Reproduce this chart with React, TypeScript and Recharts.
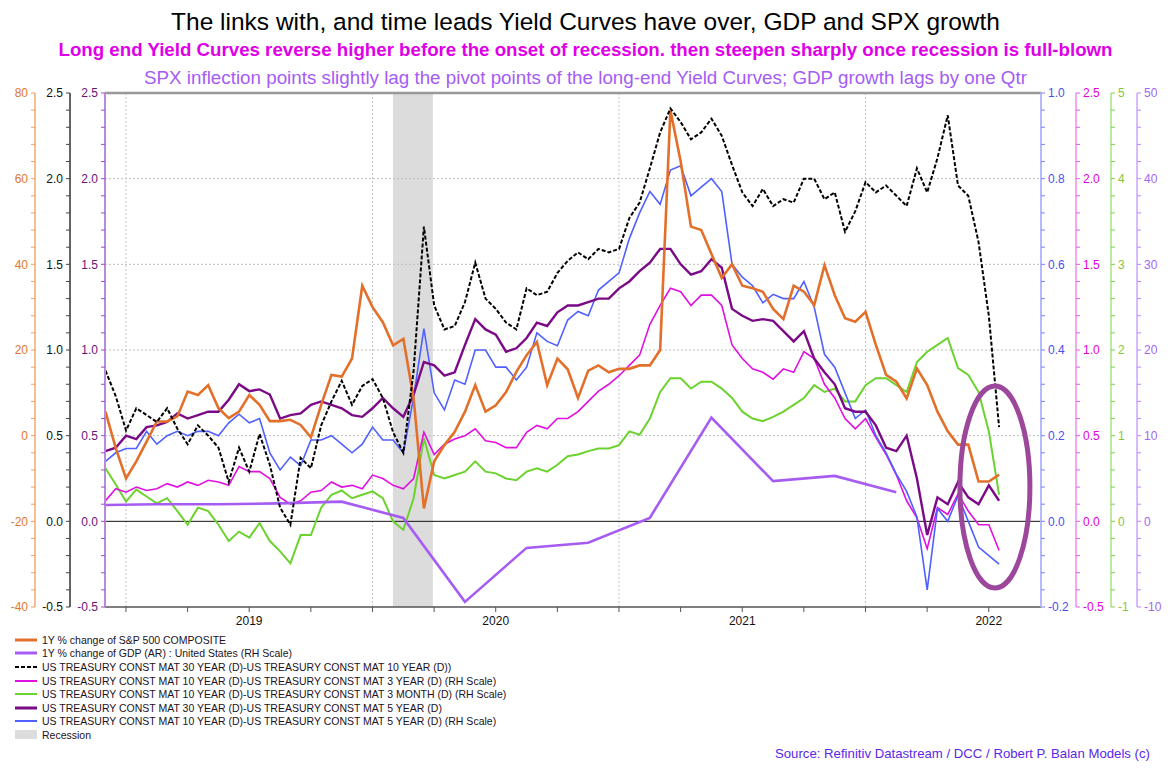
import React from 'react';
import { ComposedChart, Line, XAxis, YAxis, ReferenceLine, ReferenceArea, ReferenceDot } from 'recharts';

// semi-monthly sample dates (fractional years), Dec 2018 -> Jul 2022
const dates = Array.from({ length: 88 }, (_, i) => 2018.917 + i / 24);

const spx = [
  5.6, -2.9, -10, -6, -1.4, 3.3, 3.3, 4.5, 10.3, 9.5,
  11.8, 6.4, 4.1, 5.6, 9.5, 7.2, 3.4, 3.4, 3.7, 2.5,
  -0.4, 7.2, 14.2, 13.8, 18, 35, 30, 26.5, 21.1, 22.6,
  8.7, -17, -6, -2.2, 0.9, 5.6, 11.8, 5.6, 7.1, 10.2,
  14.9, 18.8, 21.9, 11.8, 18, 15.5, 8.8, 15.2, 16.4, 14.8,
  15.6, 15.6, 16.4, 16.4, 20, 76, 64, 48.8, 48, 42.4,
  36.8, 40, 35, 34.4, 33.6, 29.6, 27.2, 35, 33.6, 30.5,
  39.8, 32.8, 27.4, 26.6, 28.9, 21.2, 14.2, 12.6, 8.7, 15.7,
  11.8, 5.6, 1, -2.1, -2.1, -10.7, -10.7, -9.1,
];

const ust30y10y = [
  0.88, 0.73, 0.53, 0.66, 0.62, 0.58, 0.66, 0.54, 0.45, 0.56,
  0.5, 0.43, 0.23, 0.43, 0.29, 0.51, 0.33, 0.08, -0.02, 0.37,
  0.31, 0.56, 0.7, 0.82, 0.68, 0.79, 0.83, 0.72, 0.52, 0.4,
  0.88, 1.72, 1.26, 1.12, 1.14, 1.28, 1.51, 1.3, 1.24, 1.16,
  1.12, 1.36, 1.32, 1.34, 1.45, 1.52, 1.57, 1.53, 1.59, 1.57,
  1.59, 1.77, 1.86, 2.06, 2.27, 2.41, 2.33, 2.23, 2.27, 2.35,
  2.25, 2.08, 1.92, 1.84, 1.94, 1.84, 1.88, 1.86, 2.0, 2.0,
  1.88, 1.92, 1.69, 1.81, 1.98, 1.92, 1.96, 1.9, 1.84, 2.06,
  1.92, 2.12, 2.37, 1.96, 1.9, 1.63, 1.2, 0.55,
];

const ust10y3y = [
  0.12, 0.19, 0.17, 0.2, 0.18, 0.19, 0.22, 0.2, 0.23, 0.21,
  0.24, 0.23, 0.21, 0.32, 0.29, 0.29, 0.25, 0.14, 0.1, 0.12,
  0.17, 0.18, 0.23, 0.2, 0.21, 0.19, 0.27, 0.25, 0.21, 0.19,
  0.25, 0.52, 0.39, 0.45, 0.48, 0.5, 0.54, 0.47, 0.46, 0.43,
  0.43, 0.52, 0.56, 0.54, 0.6, 0.6, 0.64, 0.7, 0.76, 0.8,
  0.85, 0.91, 0.97, 1.15, 1.26, 1.36, 1.34, 1.26, 1.32, 1.32,
  1.26, 1.03, 0.95, 0.89, 0.87, 0.83, 0.89, 0.87, 0.99, 0.95,
  0.8, 0.72, 0.6, 0.54, 0.6, 0.49, 0.39, 0.27, 0.12, 0.02,
  -0.16, 0.08, 0.04, 0.16, 0.06, -0.02, -0.02, -0.17,
];

const ust10y3m = [
  0.62, 0.43, 0.23, 0.37, 0.29, 0.21, 0.27, 0.12, -0.04, 0.16,
  0.12, -0.04, -0.23, -0.12, -0.19, -0.02, -0.23, -0.35, -0.49, -0.16,
  -0.16, 0.16, 0.31, 0.36, 0.27, 0.31, 0.35, 0.27, 0.0, -0.1,
  0.27, 0.97, 0.54, 0.5, 0.54, 0.58, 0.7, 0.58, 0.56, 0.5,
  0.48, 0.58, 0.62, 0.58, 0.66, 0.76, 0.78, 0.82, 0.85, 0.85,
  0.89, 1.05, 1.01, 1.2, 1.51, 1.67, 1.67, 1.55, 1.63, 1.63,
  1.55, 1.44, 1.28, 1.2, 1.17, 1.22, 1.28, 1.36, 1.44, 1.59,
  1.51, 1.55, 1.4, 1.4, 1.59, 1.67, 1.67, 1.59, 1.51, 1.86,
  1.98, 2.06, 2.14, 1.79, 1.71, 1.51, 1.05, 0.31,
];

const ust30y5y = [
  0.41, 0.43, 0.5, 0.48, 0.55, 0.56, 0.58, 0.63, 0.6, 0.62,
  0.64, 0.64, 0.71, 0.8, 0.76, 0.77, 0.74, 0.6, 0.62, 0.63,
  0.68, 0.7, 0.68, 0.66, 0.62, 0.61, 0.66, 0.72, 0.66, 0.61,
  0.74, 0.93, 0.91, 0.85, 0.87, 1.03, 1.18, 1.12, 1.09, 0.99,
  1.01, 1.07, 1.16, 1.14, 1.22, 1.26, 1.26, 1.28, 1.3, 1.3,
  1.36, 1.4, 1.46, 1.51, 1.59, 1.59, 1.5, 1.44, 1.46, 1.53,
  1.48, 1.24, 1.2, 1.17, 1.18, 1.17, 1.11, 1.05, 1.11, 0.95,
  0.87, 0.8, 0.66, 0.64, 0.64, 0.56, 0.43, 0.41, 0.5, 0.25,
  -0.08, 0.14, 0.1, 0.23, 0.14, 0.1, 0.21, 0.12,
];

const ust10y5y = [
  0.14, 0.16, 0.17, 0.17, 0.21, 0.18, 0.2, 0.21, 0.2, 0.21,
  0.21, 0.2, 0.23, 0.25, 0.23, 0.24, 0.16, 0.12, 0.15, 0.13,
  0.19, 0.19, 0.2, 0.18, 0.16, 0.18, 0.22, 0.19, 0.19, 0.16,
  0.29, 0.45, 0.3, 0.26, 0.33, 0.32, 0.4, 0.4, 0.36, 0.36,
  0.33, 0.36, 0.44, 0.42, 0.41, 0.47, 0.49, 0.48, 0.54, 0.56,
  0.58, 0.66, 0.72, 0.77, 0.74, 0.82, 0.83, 0.76, 0.78, 0.8,
  0.77, 0.6, 0.57, 0.55, 0.51, 0.53, 0.52, 0.52, 0.56, 0.5,
  0.39, 0.36, 0.3, 0.24, 0.26, 0.2, 0.16, 0.11, 0.07, 0.01,
  -0.16, 0.03, 0.0, 0.06, 0.0, -0.06, -0.08, -0.1,
];

// quarterly GDP y/y, plotted mid-quarter
const gdpDates = [2018.917, 2019.125, 2019.375, 2019.625, 2019.875, 2020.125, 2020.375, 2020.625, 2020.875, 2021.125, 2021.375, 2021.625, 2021.875, 2022.125];
const gdpValues = [1.9, 2.0, 2.0, 2.1, 2.3, 0.4, -9.4, -3.1, -2.5, 0.4, 12.1, 4.7, 5.3, 3.4];

const yearLines = [2019, 2020, 2021, 2022];
const quarterTicks = [2019, 2019.25, 2019.5, 2019.75, 2020, 2020.25, 2020.5, 2020.75, 2021, 2021.25, 2021.5, 2021.75, 2022, 2022.25, 2022.5];
const recession = [2020.083, 2020.245];

const spxMajor = [-40, -20, 0, 20, 40, 60, 80];
const curveMajor = [-0.5, 0, 0.5, 1, 1.5, 2, 2.5];
const blueMajor = [-0.2, 0, 0.2, 0.4, 0.6, 0.8, 1];
const greenMajor = [-1, 0, 1, 2, 3, 4, 5];
const gdpMajor = [-10, 0, 10, 20, 30, 40, 50];

const data = dates.map((d, i) => ({
  date: d,
  spx: spx[i],
  t30_10: ust30y10y[i],
  t10_3y: ust10y3y[i],
  t10_3m: ust10y3m[i],
  t30_5: ust30y5y[i],
  t10_5: ust10y5y[i],
}));
const gdpData = gdpDates.map((d, i) => ({ date: d, gdp: gdpValues[i] }));

const FONT = '"Liberation Sans", Arial, sans-serif';

function minorTicks(major: number[], per: number) {
  const out: number[] = [];
  for (let k = 0; k < major.length - 1; k++) {
    const step = (major[k + 1] - major[k]) / per;
    for (let j = 0; j < per; j++) out.push(Math.round((major[k] + j * step) * 1000) / 1000);
  }
  out.push(major[major.length - 1]);
  return out;
}

function makeTick(textColor: string, lineColor: string, side: 'left' | 'right', major: number[], digits: number) {
  return (props: any) => {
    const { x, y, payload } = props;
    const v = payload.value;
    const isMajor = major.some((m) => Math.abs(m - v) < 1e-6);
    const dir = side === 'left' ? -1 : 1;
    return (
      <g>
        <line x1={x} x2={x + dir * 4} y1={y} y2={y} stroke={lineColor} strokeWidth={1} />
        {isMajor && (
          <text x={x + dir * 7} y={y} dy="0.35em" textAnchor={side === 'left' ? 'end' : 'start'} fill={textColor} fontSize={12} fontFamily={FONT}>
            {v.toFixed(digits)}
          </text>
        )}
      </g>
    );
  };
}

const XTick = (props: any) => {
  const { x, y, payload } = props;
  const v = payload.value;
  const mid = Math.abs((v % 1) - 0.5) < 1e-6;
  return (
    <g>
      <line x1={x} x2={x} y1={y} y2={y + 5} stroke="#555" />
      {mid && (
        <text x={x} y={y + 14} dy="0.35em" textAnchor="middle" fontSize={12} fontFamily={FONT} fill="#111">
          {Math.floor(v)}
        </text>
      )}
    </g>
  );
};

const legendItems = [
  { label: '1Y % change of S&P 500 COMPOSITE', color: '#e2702a', dash: '', w: 3 },
  { label: '1Y % change of GDP (AR) : United States (RH Scale)', color: '#a65cf2', dash: '', w: 3 },
  { label: 'US TREASURY CONST MAT 30 YEAR (D)-US TREASURY CONST MAT 10 YEAR (D))', color: '#000', dash: '4 2', w: 2 },
  { label: 'US TREASURY CONST MAT 10 YEAR (D)-US TREASURY CONST MAT 3 YEAR (D) (RH Scale)', color: '#e010e0', dash: '', w: 2 },
  { label: 'US TREASURY CONST MAT 10 YEAR (D)-US TREASURY CONST MAT 3 MONTH (D) (RH Scale)', color: '#6cd22e', dash: '', w: 2 },
  { label: 'US TREASURY CONST MAT 30 YEAR (D)-US TREASURY CONST MAT 5 YEAR (D)', color: '#7b0a86', dash: '', w: 3 },
  { label: 'US TREASURY CONST MAT 10 YEAR (D)-US TREASURY CONST MAT 5 YEAR (D) (RH Scale)', color: '#5060ff', dash: '', w: 2 },
];

const axisCommon = { allowDataOverflow: true, interval: 0 as const, tickLine: false, tickSize: 0, tickMargin: 0 };

export default function App() {
  return (
    <div style={{ position: 'absolute', left: 0, top: 0, width: 1171, height: 771, background: '#fff', fontFamily: FONT }}>
      <div style={{ position: 'absolute', top: 8, width: 1171, textAlign: 'center', fontSize: 24.5, lineHeight: '28px', color: '#000' }}>
        The links with, and time leads Yield Curves have over, GDP and SPX growth
      </div>
      <div style={{ position: 'absolute', top: 38, width: 1171, textAlign: 'center', fontSize: 18.7, fontWeight: 'bold', lineHeight: '24px', color: '#e000e8' }}>
        Long end Yield Curves reverse higher before the onset of recession. then steepen sharply once recession is full-blown
      </div>
      <div style={{ position: 'absolute', top: 66, width: 1171, textAlign: 'center', fontSize: 18.8, lineHeight: '24px', color: '#a45cf4' }}>
        SPX inflection points slightly lag the pivot points of the long-end Yield Curves; GDP growth lags by one Qtr
      </div>

      <div style={{ position: 'absolute', left: 0, top: 0 }}>
        <ComposedChart width={1171} height={640} data={data} margin={{ top: 93, right: 0, bottom: 3, left: 0 }}>
          <XAxis
            dataKey="date"
            type="number"
            domain={[2018.915, 2022.712]}
            allowDataOverflow
            ticks={quarterTicks}
            interval={0}
            tick={XTick}
            tickLine={false}
            tickSize={0}
            tickMargin={0}
            height={30}
            axisLine={{ stroke: '#555', strokeWidth: 1.5 }}
          />
          {/* axes are laid out in id order: a1 is next to the plot on the left, r1 on the right */}
          <YAxis yAxisId="a1" orientation="left" width={35} domain={[-0.5, 2.5]} ticks={minorTicks(curveMajor, 5)} tick={makeTick('#6a147a', '#9a4fc0', 'left', curveMajor, 1)} axisLine={{ stroke: '#b98ad8', strokeWidth: 2 }} {...axisCommon} />
          <YAxis yAxisId="a2" orientation="left" width={35} domain={[-0.5, 2.5]} ticks={minorTicks(curveMajor, 5)} tick={makeTick('#111', '#444', 'left', curveMajor, 1)} axisLine={{ stroke: '#666', strokeWidth: 2 }} {...axisCommon} />
          <YAxis yAxisId="a3" orientation="left" width={35} domain={[-40, 80]} ticks={minorTicks(spxMajor, 5)} tick={makeTick('#e0782e', '#f0a060', 'left', spxMajor, 0)} axisLine={{ stroke: '#f2aa70', strokeWidth: 1.5 }} {...axisCommon} />
          <YAxis yAxisId="r1" orientation="right" width={35} domain={[-0.2, 1]} ticks={minorTicks(blueMajor, 5)} tick={makeTick('#4a50f0', '#7c84ff', 'right', blueMajor, 1)} axisLine={{ stroke: '#b6baff', strokeWidth: 2 }} {...axisCommon} />
          <YAxis yAxisId="r2" orientation="right" width={35} domain={[-0.5, 2.5]} ticks={minorTicks(curveMajor, 5)} tick={makeTick('#e000e0', '#e060e0', 'right', curveMajor, 1)} axisLine={{ stroke: '#f08cf0', strokeWidth: 1.5 }} {...axisCommon} />
          <YAxis yAxisId="r3" orientation="right" width={26} domain={[-1, 5]} ticks={minorTicks(greenMajor, 5)} tick={makeTick('#88c63a', '#80d050', 'right', greenMajor, 0)} axisLine={{ stroke: '#a4e482', strokeWidth: 1.5 }} {...axisCommon} />
          <YAxis yAxisId="r4" orientation="right" width={34} domain={[-10, 50]} ticks={minorTicks(gdpMajor, 5)} tick={makeTick('#a466f0', '#b888f4', 'right', gdpMajor, 0)} axisLine={{ stroke: '#caa6ff', strokeWidth: 1.5 }} {...axisCommon} />

          <ReferenceArea yAxisId="a2" x1={recession[0]} x2={recession[1]} fill="#dcdcdc" fillOpacity={1} stroke="none" />
          {[0.5, 1, 1.5, 2].map((v) => (
            <ReferenceLine key={'h' + v} yAxisId="a2" y={v} stroke="#bdbdbd" strokeDasharray="2 2" />
          ))}
          {yearLines.map((v) => (
            <ReferenceLine key={'v' + v} yAxisId="a2" x={v} stroke="#c4c4c4" strokeDasharray="2 2" />
          ))}
          <ReferenceLine yAxisId="a2" y={0} stroke="#111" strokeWidth={1} />
          <ReferenceLine yAxisId="a2" y={2.5} stroke="#999" strokeWidth={2.5} />

          <Line yAxisId="r3" dataKey="t10_3m" type="linear" stroke="#6cd22e" strokeWidth={2} dot={false} isAnimationActive={false} />
          <Line yAxisId="r2" dataKey="t10_3y" type="linear" stroke="#e010e0" strokeWidth={1.6} dot={false} isAnimationActive={false} />
          <Line yAxisId="r1" dataKey="t10_5" type="linear" stroke="#5060ff" strokeWidth={1.6} dot={false} isAnimationActive={false} />
          <Line yAxisId="a1" dataKey="t30_5" type="linear" stroke="#7b0a86" strokeWidth={2.4} dot={false} isAnimationActive={false} />
          <Line yAxisId="a3" dataKey="spx" type="linear" stroke="#e2702a" strokeWidth={2.6} dot={false} isAnimationActive={false} />
          <Line yAxisId="r4" data={gdpData} dataKey="gdp" type="linear" stroke="#a65cf2" strokeWidth={2.6} dot={false} isAnimationActive={false} />
          <Line yAxisId="a2" dataKey="t30_10" type="linear" stroke="#000" strokeWidth={2} strokeDasharray="4 2" dot={false} isAnimationActive={false} />

          <ReferenceDot
            yAxisId="a2"
            x={2022.525}
            y={0.2}
            r={1}
            shape={(p: any) => <ellipse cx={p.cx} cy={p.cy} rx={35} ry={101} fill="none" stroke="#9c479c" strokeWidth={5} />}
          />
        </ComposedChart>
      </div>

      <div style={{ position: 'absolute', left: 15, top: 633, fontSize: 10.5, color: '#221122' }}>
        {legendItems.map((it) => (
          <div key={it.label} style={{ height: 13.6, display: 'flex', alignItems: 'center', whiteSpace: 'nowrap' }}>
            <svg width={22} height={8} style={{ marginRight: 5 }}>
              <line x1={0} x2={22} y1={4} y2={4} stroke={it.color} strokeWidth={it.w} strokeDasharray={it.dash || undefined} />
            </svg>
            <span>{it.label}</span>
          </div>
        ))}
        <div style={{ height: 13.6, display: 'flex', alignItems: 'center', whiteSpace: 'nowrap' }}>
          <div style={{ width: 22, height: 9, background: '#dcdcdc', marginRight: 5 }} />
          <span>Recession</span>
        </div>
      </div>

      <div style={{ position: 'absolute', right: 21, top: 746, fontSize: 13.2, color: '#5a28e6', whiteSpace: 'nowrap' }}>
        Source: Refinitiv Datastream / DCC / Robert P. Balan Models (c)
      </div>
    </div>
  );
}
